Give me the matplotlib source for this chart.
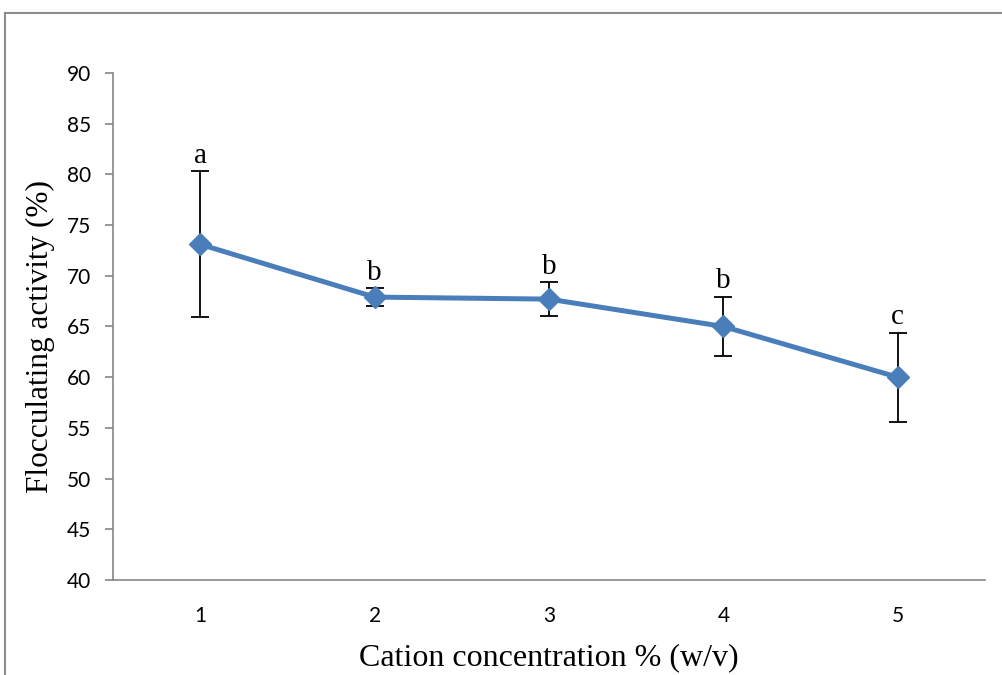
import matplotlib
matplotlib.use("Agg")
import matplotlib.pyplot as plt
from matplotlib.lines import Line2D

# Data
concentration = [1, 2, 3, 4, 5]
activity = [73.1, 67.9, 67.7, 65.0, 60.0]
errors = [7.2, 0.85, 1.65, 2.9, 4.4]
groups = ["a", "b", "b", "b", "c"]
y_ticks = [40, 45, 50, 55, 60, 65, 70, 75, 80, 85, 90]

fig = plt.figure(figsize=(10.02, 6.75), dpi=100)
ax = fig.add_axes([0.1128, 0.1407, 0.8702, 0.7512])

blue = "#4A7EBB"
ax.errorbar(concentration, activity, yerr=errors, fmt="none", ecolor="black",
            elinewidth=1.3, capsize=6.5, capthick=1.3, zorder=2)
ax.plot(concentration, activity, color=blue, linewidth=3.6, marker="D",
        markersize=11, markerfacecolor=blue, markeredgecolor=blue, zorder=3)

for x, y, e, g in zip(concentration, activity, errors, groups):
    ax.annotate(g, xy=(x, y + e), xytext=(0, 2), textcoords="offset points",
                ha="center", va="bottom", fontsize=21,
                family="Liberation Serif")

ax.set_xlim(0.5, 5.5)
ax.set_ylim(40, 90)
ax.set_yticks(y_ticks)
ax.set_xticks(concentration)

for side in ("top", "right"):
    ax.spines[side].set_visible(False)
for side in ("left", "bottom"):
    ax.spines[side].set_color("#868686")
    ax.spines[side].set_linewidth(1.2)

ax.tick_params(axis="y", direction="out", length=6, width=1.2, color="#868686",
               labelsize=15, pad=10)
ax.tick_params(axis="x", length=0, labelsize=15, pad=19)
for lbl in ax.get_xticklabels() + ax.get_yticklabels():
    lbl.set_family("Lato")

ax.set_xlabel("Cation concentration % (w/v)", family="Liberation Serif",
              fontsize=23, labelpad=12)
ax.set_ylabel("Flocculating activity (%)", family="Liberation Serif",
              fontsize=22.5)
ax.yaxis.set_label_coords(-0.067, 0.48)

# Chart frame
frame_color = "#8C8C8C"
fig.add_artist(Line2D([5 / 1002, 1.0], [1 - 13 / 675, 1 - 13 / 675],
                      transform=fig.transFigure, color=frame_color, linewidth=1.5))
fig.add_artist(Line2D([5 / 1002, 5 / 1002], [0.0, 1 - 13 / 675],
                      transform=fig.transFigure, color=frame_color, linewidth=1.5))

fig.savefig("out.png", dpi=100)
